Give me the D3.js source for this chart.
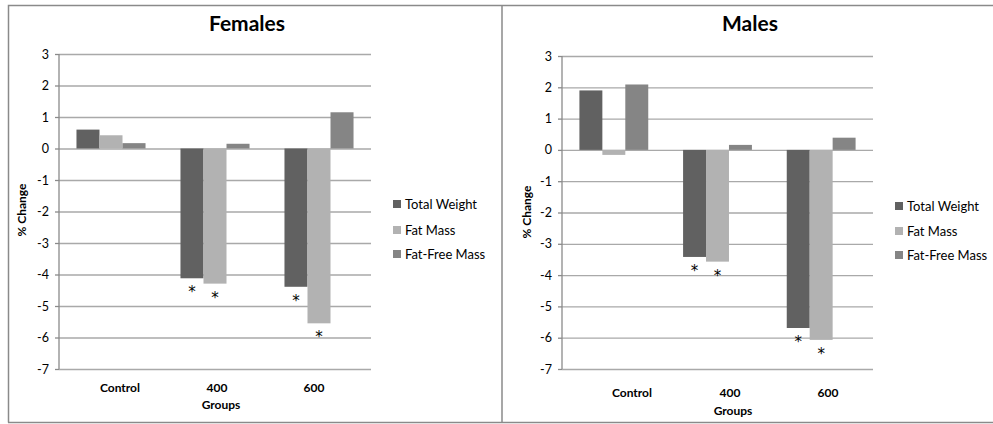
<!DOCTYPE html>
<html>
<head>
<meta charset="utf-8">
<script src="https://cdn.jsdelivr.net/npm/d3@7.9.0/dist/d3.min.js"></script>
<style>
  body { margin: 0; background: #fff; }
  text { font-family: Lato, "Open Sans", sans-serif; fill: #000; }
</style>
</head>
<body>
<svg id="chart" width="993" height="424"></svg>
<script>
const groups = ['Control', '400', '600'];
const seriesNames = ['Total Weight', 'Fat Mass', 'Fat-Free Mass'];
const seriesColors = ['#616161', '#b2b2b2', '#858585'];
const yTicks = [3, 2, 1, 0, -1, -2, -3, -4, -5, -6, -7];

// % change per group, one array per series
const femalesTotal = [0.6, -4.12, -4.39];
const femalesFat = [0.42, -4.29, -5.55];
const femalesFFM = [0.17, 0.15, 1.15];
const malesTotal = [1.9, -3.42, -5.69];
const malesFat = [-0.16, -3.57, -6.07];
const malesFFM = [2.09, 0.16, 0.39];

// significant (*) marks: [series index, group index]
const femalesSig = [[0, 1], [1, 1], [0, 2], [1, 2]];
const malesSig = [[0, 1], [1, 1], [0, 2], [1, 2]];

const panels = [
  { title: 'Females', series: [femalesTotal, femalesFat, femalesFFM], sig: femalesSig,
    x0: 59, x1: 371, yTop: 54, yBot: 369, titleX: 247, yTitleX: 22, yTitleY: 210,
    legX: 393, legY: [204, 230, 254], labelRange: [120, 314], labelY: 392, groupsX: 221, groupsY: 409 },
  { title: 'Males', series: [malesTotal, malesFat, malesFFM], sig: malesSig,
    x0: 562, x1: 873, yTop: 56, yBot: 369, titleX: 750, yTitleX: 527, yTitleY: 212,
    legX: 895, legY: [206, 231, 255], labelRange: [632, 828], labelY: 397, groupsX: 733, groupsY: 415 }
];

const svg = d3.select('#chart');

// frame
svg.append('path')
  .attr('d', 'M8.5,422.5 V5.5 H993 M502,5 V423 M8,422.5 H993')
  .attr('fill', 'none').attr('stroke', '#8a8a8a').attr('stroke-width', 1.5);

panels.forEach(p => {
  const g = svg.append('g');
  const y = d3.scaleLinear().domain([-7, 3]).range([p.yBot, p.yTop]);
  const x = d3.scaleBand().domain(groups).range([p.x0, p.x1])
    .paddingInner(0.336).paddingOuter(0.168);
  const xs = d3.scaleBand().domain(d3.range(seriesNames.length)).range([0, x.bandwidth()]);
  const xl = d3.scalePoint().domain(groups).range(p.labelRange);

  // gridlines + y axis
  const yAxis = d3.axisLeft(y).tickValues(yTicks).tickFormat(d => String(d))
    .tickSize(-(p.x1 - p.x0)).tickPadding(10);
  const ya = g.append('g').attr('transform', `translate(${p.x0},0)`).call(yAxis);
  ya.select('.domain').remove();
  ya.selectAll('.tick line').attr('stroke', '#a9a9a9').attr('stroke-width', 1.3);
  ya.selectAll('.tick text').style('font-size', '12.5px').attr('fill', '#000');
  ya.selectAll('.tick').append('line').attr('x1', -4).attr('x2', 0)
    .attr('stroke', '#8a8a8a').attr('stroke-width', 1.3);
  g.append('line').attr('x1', p.x0).attr('x2', p.x0).attr('y1', p.yTop).attr('y2', p.yBot)
    .attr('stroke', '#8a8a8a').attr('stroke-width', 1.3);

  // bars
  p.series.forEach((vals, si) => {
    g.selectAll(null).data(vals).join('rect')
      .attr('x', (d, i) => x(groups[i]) + xs(si))
      .attr('width', xs.bandwidth())
      .attr('y', d => y(Math.max(0, d)))
      .attr('height', d => Math.abs(y(d) - y(0)))
      .attr('fill', seriesColors[si]);
  });

  // significance asterisks
  g.selectAll(null).data(p.sig).join('text')
    .attr('x', d => x(groups[d[1]]) + xs(d[0]) + xs.bandwidth() / 2)
    .attr('y', d => y(p.series[d[0]][d[1]]) + 19)
    .attr('text-anchor', 'middle')
    .style('font-family', '"DejaVu Sans", sans-serif').style('font-size', '15px')
    .text('*');

  // category labels
  g.selectAll(null).data(groups).join('text')
    .attr('x', d => xl(d)).attr('y', p.labelY)
    .attr('text-anchor', 'middle').style('font-size', '12px').style('font-weight', 'bold')
    .text(d => d);
  g.append('text').attr('x', p.groupsX).attr('y', p.groupsY)
    .attr('text-anchor', 'middle').style('font-size', '12px').style('font-weight', 'bold')
    .text('Groups');

  // y title
  g.append('text')
    .attr('transform', `translate(${p.yTitleX + 4},${p.yTitleY}) rotate(-90)`)
    .attr('text-anchor', 'middle').style('font-size', '12px').style('font-weight', 'bold')
    .text('% Change');

  // chart title
  g.append('text').attr('x', p.titleX).attr('y', 31)
    .attr('text-anchor', 'middle').style('font-size', '21px').style('font-weight', 'bold')
    .text(p.title);

  // legend
  const leg = g.selectAll(null).data(seriesNames).join('g')
    .attr('transform', (d, i) => `translate(${p.legX},${p.legY[i]})`);
  leg.append('rect').attr('x', 0).attr('y', -4).attr('width', 8).attr('height', 8)
    .attr('fill', (d, i) => seriesColors[i]);
  leg.append('text').attr('x', 12).attr('y', 4.5).style('font-size', '13px').text(d => d);
});
</script>
</body>
</html>
